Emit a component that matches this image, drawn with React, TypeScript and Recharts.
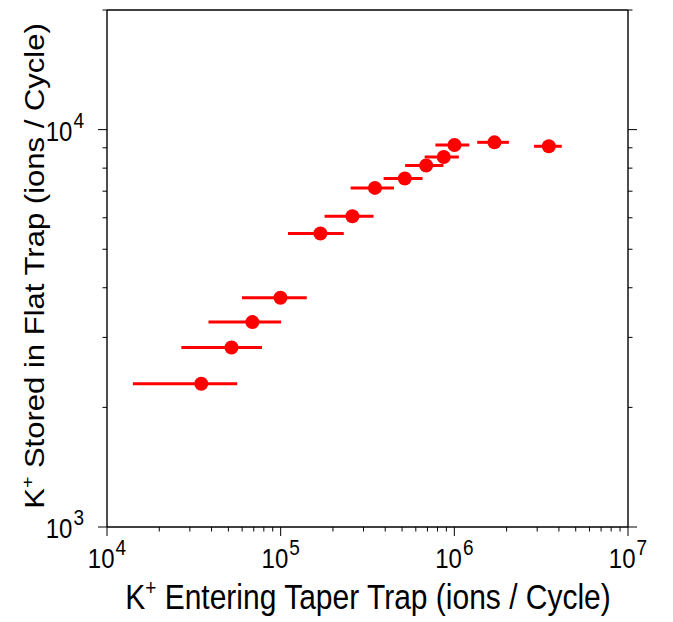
import React from "react";
import { ScatterChart, Scatter, XAxis, YAxis, ErrorBar, Label } from "recharts";

// K+ entering the taper trap (ions / cycle): centre, lower and upper end of the bar
const entering = [34900, 52100, 68700, 99700, 169300, 258800, 349000, 518500, 688100, 868800, 1002000, 1702000, 3500000];
const enteringLow = [14100, 26800, 38400, 59900, 110200, 179000, 252700, 391600, 521000, 674600, 778000, 1355000, 2878000];
const enteringHigh = [56200, 78100, 100600, 141300, 230800, 342700, 449600, 656500, 865000, 1062000, 1219000, 2061000, 4155000];
// K+ stored in the flat trap (ions / cycle)
const stored = [2293, 2830, 3278, 3774, 5477, 6055, 7134, 7531, 8120, 8536, 9150, 9290, 9080];

const xTicks = [
  10000, 20000, 30000, 40000, 50000, 60000, 70000, 80000, 90000,
  100000, 200000, 300000, 400000, 500000, 600000, 700000, 800000, 900000,
  1000000, 2000000, 3000000, 4000000, 5000000, 6000000, 7000000, 8000000, 9000000,
  10000000,
];
const yTicks = [1000, 2000, 3000, 4000, 5000, 6000, 7000, 8000, 9000, 10000, 20000];
const xMajor = [10000, 100000, 1000000, 10000000];
const yMajor = [1000, 10000];

const data = entering.map((x, i) => ({
  x,
  y: stored[i],
  err: [x - enteringLow[i], enteringHigh[i] - x],
}));

const FONT = "'Liberation Sans', Arial, Helvetica, sans-serif";
const MAJOR = 9;
const MINOR = 4.5;
const STRETCH = 1.15; // text in the original is drawn a bit tall

// "10" with the exponent raised
const Pow = ({ x, y, v, anchor }: any) => (
  <text
    transform={`translate(${x},${y}) scale(1,${STRETCH})`}
    textAnchor={anchor}
    fontFamily={FONT}
    fontSize={24}
    fill="#000"
  >
    <tspan>10</tspan>
    <tspan dx={1} dy={-11} fontSize={19}>{Math.round(Math.log10(v))}</tspan>
  </text>
);

const BottomTick = (props: any) => {
  const { x, y, payload } = props;
  const major = xMajor.includes(payload.value);
  return (
    <g>
      <line x1={x} x2={x} y1={y} y2={y + (major ? MAJOR : MINOR)} stroke="#000" strokeWidth={1} />
      {major && <Pow x={x} y={y + 41} v={payload.value} anchor="middle" />}
    </g>
  );
};

const TopTick = (props: any) => {
  const { x, y, payload } = props;
  const major = xMajor.includes(payload.value);
  return <line x1={x} x2={x} y1={y} y2={y - (major ? MAJOR : MINOR)} stroke="#000" strokeWidth={1} />;
};

const LeftTick = (props: any) => {
  const { x, y, payload } = props;
  const major = yMajor.includes(payload.value);
  return (
    <g>
      <line x1={x} x2={x - (major ? MAJOR : MINOR)} y1={y} y2={y} stroke="#000" strokeWidth={1} />
      {major && <Pow x={x - 23} y={y + 11} v={payload.value} anchor="end" />}
    </g>
  );
};

const RightTick = (props: any) => {
  const { x, y, payload } = props;
  const major = yMajor.includes(payload.value);
  return <line x1={x} x2={x + (major ? MAJOR : MINOR)} y1={y} y2={y} stroke="#000" strokeWidth={1} />;
};

const Dot = (props: any) => <circle cx={props.cx} cy={props.cy} r={7} fill="#ff0000" />;

const axisLine = { stroke: "#000", strokeWidth: 1.4 };

export default function App() {
  return (
    <div style={{ position: "absolute", left: 0, top: 0, background: "#fff" }}>
      <ScatterChart width={673} height={622} margin={{ top: 0, right: 35, bottom: 35, left: 47 }}>
        <XAxis
          xAxisId="bottom"
          dataKey="x"
          type="number"
          scale="log"
          domain={[10000, 10000000]}
          allowDataOverflow
          ticks={xTicks}
          interval={0}
          tick={BottomTick}
          tickSize={0}
          tickMargin={0}
          tickLine={false}
          axisLine={axisLine}
          height={60}
        >
          <Label
            content={() => (
              <text
                transform={`translate(368,609) scale(1,${STRETCH})`}
                textAnchor="middle"
                fontFamily={FONT}
                fontSize={30}
                fill="#000"
              >
                <tspan>K</tspan>
                <tspan dy={-12} fontSize={19}>+</tspan>
                <tspan dy={12}> Entering Taper Trap (ions / Cycle)</tspan>
              </text>
            )}
          />
        </XAxis>
        <XAxis
          xAxisId="top"
          orientation="top"
          type="number"
          scale="log"
          domain={[10000, 10000000]}
          allowDataOverflow
          ticks={xTicks}
          interval={0}
          tick={TopTick}
          tickSize={0}
          tickMargin={0}
          tickLine={false}
          axisLine={axisLine}
          height={10}
        />
        <YAxis
          yAxisId="left"
          dataKey="y"
          type="number"
          scale="log"
          domain={[1000, 20000]}
          allowDataOverflow
          ticks={yTicks}
          interval={0}
          tick={LeftTick}
          tickSize={0}
          tickMargin={0}
          tickLine={false}
          axisLine={axisLine}
          width={60}
        >
          <Label
            content={() => (
              <text
                transform={`translate(44,266) scale(1,${STRETCH}) rotate(-90)`}
                textAnchor="middle"
                fontFamily={FONT}
                fontSize={27}
                fill="#000"
              >
                <tspan>K</tspan>
                <tspan dy={-11} fontSize={17}>+</tspan>
                <tspan dy={11}> Stored in Flat Trap (ions / Cycle)</tspan>
              </text>
            )}
          />
        </YAxis>
        <YAxis
          yAxisId="right"
          orientation="right"
          type="number"
          scale="log"
          domain={[1000, 20000]}
          allowDataOverflow
          ticks={yTicks}
          interval={0}
          tick={RightTick}
          tickSize={0}
          tickMargin={0}
          tickLine={false}
          axisLine={axisLine}
          width={10}
        />
        <Scatter
          xAxisId="bottom"
          yAxisId="left"
          data={data}
          shape={Dot}
          isAnimationActive={false}
        >
          <ErrorBar
            dataKey="err"
            direction="x"
            width={0}
            stroke="#ff0000"
            strokeWidth={3}
            isAnimationActive={false}
          />
        </Scatter>
      </ScatterChart>
    </div>
  );
}
